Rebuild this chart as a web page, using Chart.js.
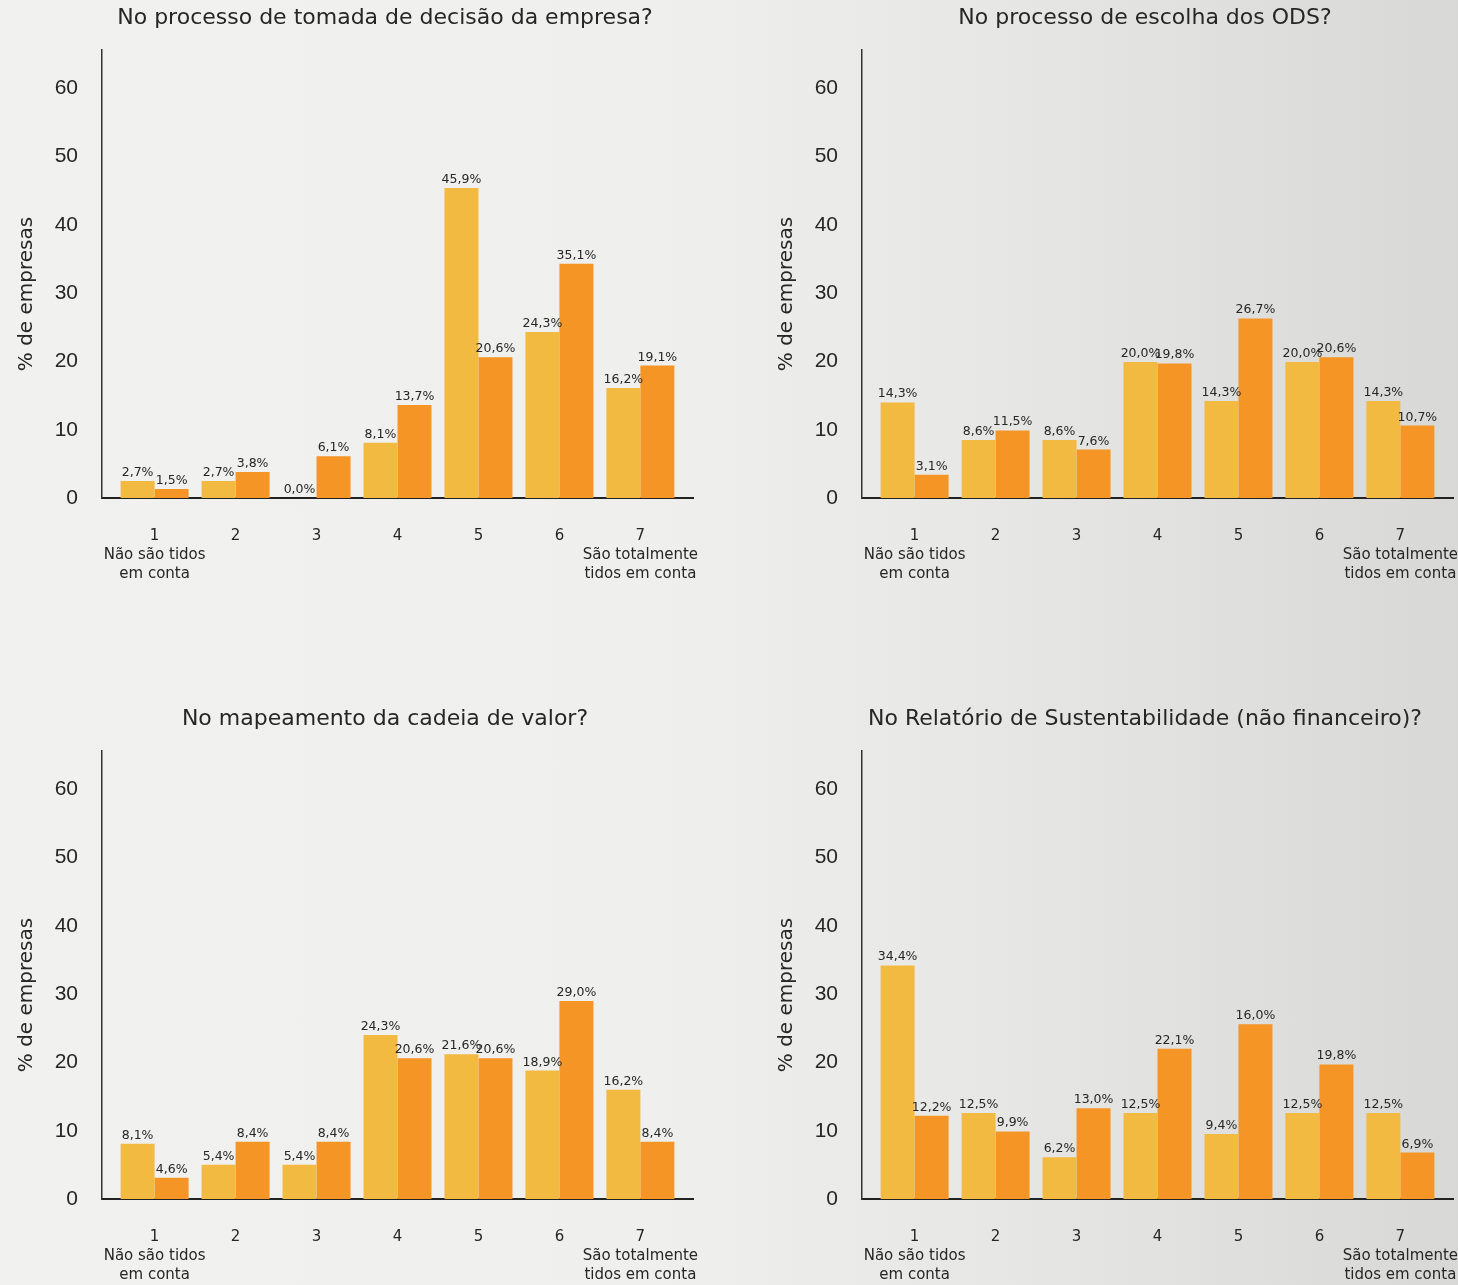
<!DOCTYPE html>
<html>
<head>
<meta charset="utf-8">
<script src="https://cdn.jsdelivr.net/npm/chart.js@4.4.1/dist/chart.umd.min.js"></script>
<style>
  html, body { margin: 0; padding: 0; }
  body {
    width: 1458px; height: 1285px; overflow: hidden; position: relative;
    background: linear-gradient(to right, #f1f1ef 0%, #efefed 45%, #e6e6e4 70%, #d8d8d6 100%);
  }
  canvas { position: absolute; }
</style>
</head>
<body>
<canvas id="c1" width="760" height="701" style="left:0;top:0"></canvas>
<canvas id="c2" width="698" height="701" style="left:760px;top:0"></canvas>
<canvas id="c3" width="760" height="584" style="left:0;top:701px"></canvas>
<canvas id="c4" width="698" height="584" style="left:760px;top:701px"></canvas>
<script>
// escala 1..7
const categorias = [1, 2, 3, 4, 5, 6, 7];
const yTicks = [0, 10, 20, 30, 40, 50, 60];

const titulos = [
  "No processo de tomada de decisão da empresa?",
  "No processo de escolha dos ODS?",
  "No mapeamento da cadeia de valor?",
  "No Relatório de Sustentabilidade (não financeiro)?"
];

// altura das barras
const decisaoAmarelo = [2.5, 2.5, 0, 8.1, 45.4, 24.3, 16.1];
const decisaoLaranja = [1.3, 3.8, 6.1, 13.6, 20.6, 34.3, 19.4];
const odsAmarelo = [14.0, 8.5, 8.5, 19.9, 14.2, 19.9, 14.2];
const odsLaranja = [3.4, 9.9, 7.1, 19.7, 26.3, 20.6, 10.6];
const cadeiaAmarelo = [8.1, 5.0, 5.0, 24.0, 21.2, 18.8, 16.0];
const cadeiaLaranja = [3.1, 8.4, 8.4, 20.6, 20.6, 29.0, 8.4];
const relatorioAmarelo = [34.2, 12.6, 6.1, 12.6, 9.5, 12.6, 12.6];
const relatorioLaranja = [12.2, 9.9, 13.3, 22.0, 25.6, 19.7, 6.8];

// percentagens escritas sobre as barras
const decisaoTxtAmarelo = [2.7, 2.7, 0.0, 8.1, 45.9, 24.3, 16.2];
const decisaoTxtLaranja = [1.5, 3.8, 6.1, 13.7, 20.6, 35.1, 19.1];
const odsTxtAmarelo = [14.3, 8.6, 8.6, 20.0, 14.3, 20.0, 14.3];
const odsTxtLaranja = [3.1, 11.5, 7.6, 19.8, 26.7, 20.6, 10.7];
const cadeiaTxtAmarelo = [8.1, 5.4, 5.4, 24.3, 21.6, 18.9, 16.2];
const cadeiaTxtLaranja = [4.6, 8.4, 8.4, 20.6, 20.6, 29.0, 8.4];
const relatorioTxtAmarelo = [34.4, 12.5, 6.2, 12.5, 9.4, 12.5, 12.5];
const relatorioTxtLaranja = [12.2, 9.9, 13.0, 22.1, 16.0, 19.8, 6.9];

const AMARELO = "#f3ba41";
const LARANJA = "#f49526";
const TEXTO = "#262626";
const FONTE = '"DejaVu Sans", "Noto Sans", sans-serif';

function fmt(v) {
  return v.toFixed(1).replace(".", ",") + "%";
}

function tickTexto(v) {
  if (v === 1) return ["1", "Não são tidos", "em conta"];
  if (v === 7) return ["7", "São totalmente", "tidos em conta"];
  return String(v);
}

// rótulos das barras, título do painel e título do eixo y
const rotulos = {
  id: "rotulos",
  afterDatasetsDraw(chart, args, opts) {
    const ctx = chart.ctx;
    ctx.save();
    ctx.fillStyle = TEXTO;
    ctx.textAlign = "center";
    ctx.textBaseline = "bottom";
    ctx.font = "12.5px " + FONTE;
    chart.data.datasets.forEach((ds, d) => {
      chart.getDatasetMeta(d).data.forEach((bar, i) => {
        ctx.fillText(fmt(ds.pct[i]), bar.x, bar.y - 2);
      });
    });
    ctx.textBaseline = "middle";
    ctx.font = "22px " + FONTE;
    ctx.fillText(opts.titulo, 385, 18);

    ctx.translate(27, chart.chartArea.top + 244);
    ctx.rotate(-Math.PI / 2);
    ctx.font = "20px " + FONTE;
    ctx.fillText("% de empresas", 0, 0);
    ctx.restore();
  }
};

function criarPainel(id, titulo, amarelo, laranja, txtAmarelo, txtLaranja) {
  const canvas = document.getElementById(id);
  const W = canvas.width;
  const H = canvas.height;

  new Chart(canvas, {
    type: "bar",
    data: {
      datasets: [
        {
          data: categorias.map((c, i) => ({ x: c, y: amarelo[i] })),
          pct: txtAmarelo,
          backgroundColor: AMARELO
        },
        {
          data: categorias.map((c, i) => ({ x: c, y: laranja[i] })),
          pct: txtLaranja,
          backgroundColor: LARANJA
        }
      ]
    },
    plugins: [rotulos],
    options: {
      responsive: false,
      animation: false,
      devicePixelRatio: 1,
      categoryPercentage: 0.84,
      barPercentage: 1,
      layout: { padding: { top: 50, right: W - 693, left: 0, bottom: 0 } },
      plugins: {
        legend: { display: false },
        tooltip: { enabled: false },
        rotulos: { titulo }
      },
      scales: {
        x: {
          type: "linear",
          offset: false,
          min: 0.35,
          max: 7.65,
          grid: { display: false },
          border: { color: "#222", width: 2 },
          afterBuildTicks: s => { s.ticks = categorias.map(v => ({ value: v })); },
          afterFit: s => {
            s.height = H - 498;
            s.paddingLeft = 0;
            s.paddingRight = 0;
          },
          ticks: {
            padding: 21,
            color: TEXTO,
            maxRotation: 0,
            autoSkip: false,
            font: { family: FONTE, size: 15, lineHeight: 1.25 },
            callback: v => tickTexto(v)
          }
        },
        y: {
          min: 0,
          max: 65.6,
          grid: { display: false },
          border: { color: "#333", width: 1.5 },
          afterBuildTicks: s => { s.ticks = yTicks.map(v => ({ value: v })); },
          afterFit: s => { s.width = 102; },
          ticks: {
            padding: 16,
            color: TEXTO,
            font: { family: '"Liberation Sans", Arial, sans-serif', size: 21 }
          }
        }
      }
    }
  });
}

criarPainel("c1", titulos[0], decisaoAmarelo, decisaoLaranja, decisaoTxtAmarelo, decisaoTxtLaranja);
criarPainel("c2", titulos[1], odsAmarelo, odsLaranja, odsTxtAmarelo, odsTxtLaranja);
criarPainel("c3", titulos[2], cadeiaAmarelo, cadeiaLaranja, cadeiaTxtAmarelo, cadeiaTxtLaranja);
criarPainel("c4", titulos[3], relatorioAmarelo, relatorioLaranja, relatorioTxtAmarelo, relatorioTxtLaranja);
</script>
</body>
</html>
